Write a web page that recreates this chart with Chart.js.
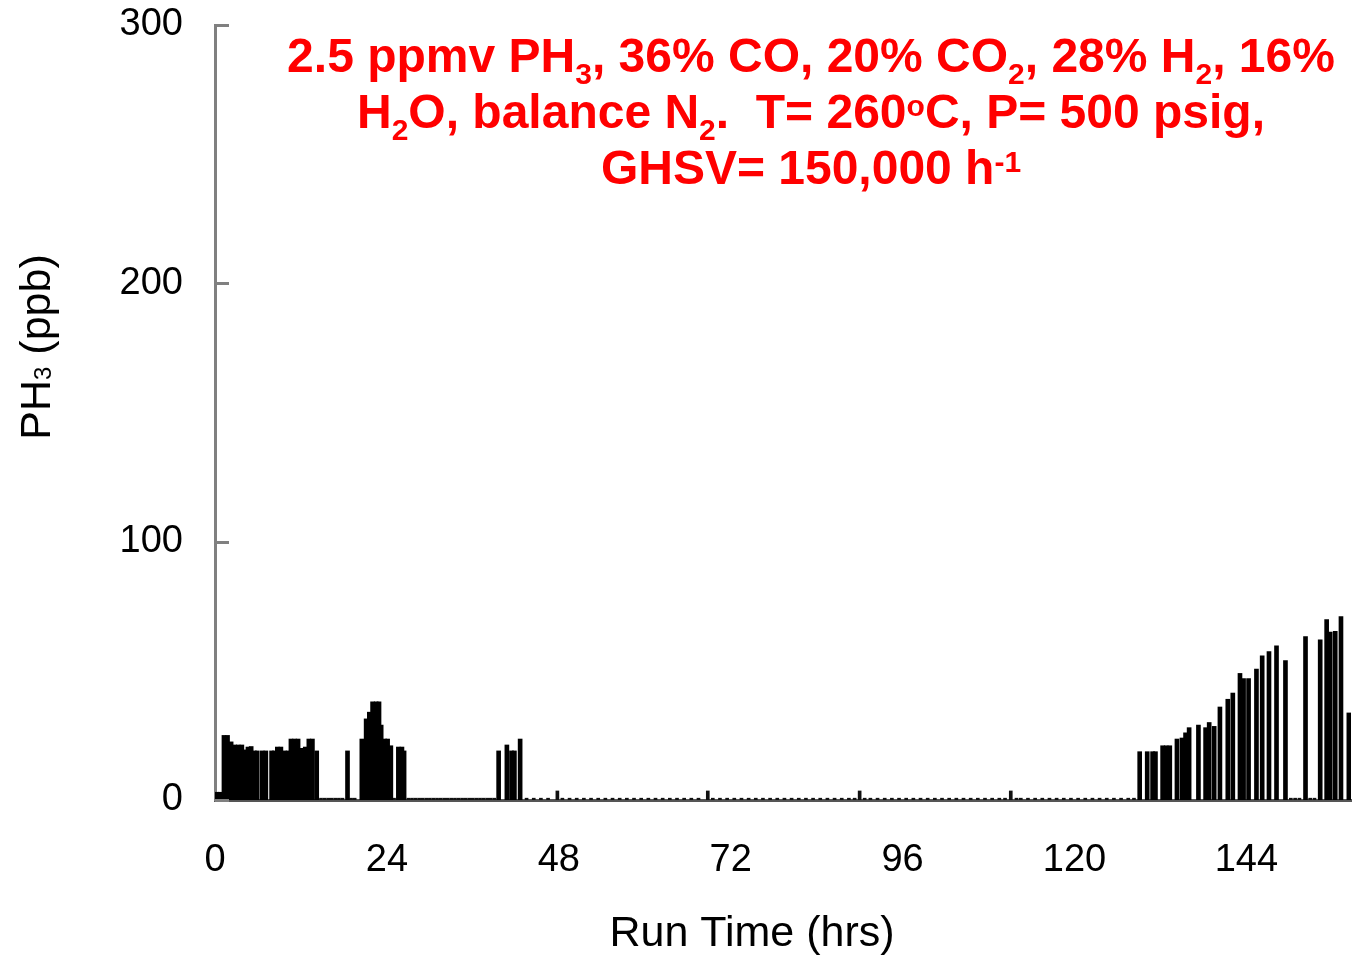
<!DOCTYPE html>
<html>
<head>
<meta charset="utf-8">
<script src="https://cdn.jsdelivr.net/npm/chart.js"></script>
<style>
  body { margin: 0; background: #fff; }
  #wrap { position: relative; width: 1353px; height: 956px; }
</style>
</head>
<body>
<div id="wrap"><canvas id="myChart"></canvas></div>
<script>
// PH3 readings (ppb) against run time (hrs)
var hours = [
  0.25, 0.75, 1.25, 1.75, 2.25, 2.75, 3.25, 3.75, 4.25, 4.6,
  5.05, 5.5, 5.9, 6.6, 7.1, 7.9, 8.3, 8.7, 9.2, 9.7,
  10.2, 10.6, 11.1, 11.6, 12.1, 12.6, 13.1, 13.6, 14.2, 18.5,
  20.5, 21.1, 21.55, 22.0, 22.5, 22.9, 23.2, 23.7, 24.1, 24.55,
  25.6, 26.1, 26.4, 39.6, 40.75, 41.4, 41.8, 42.6, 129.1, 130.15,
  130.9, 131.3, 132.3, 132.8, 133.3, 134.3, 135.0, 135.5, 136.0, 137.3,
  138.3, 138.8, 139.5, 140.3, 141.4, 142.1, 143.1, 143.6, 144.3, 145.4,
  146.2, 147.15, 148.2, 149.45, 152.25, 154.3, 155.2, 155.7, 156.4, 157.2,
  158.3
];
var ppb = [
  3, 3, 25, 25, 22.5, 21.3, 21.3, 21.3, 19.4, 20.5,
  20.7, 19, 19, 19, 19, 19, 19, 20.5, 20.5, 19,
  19, 23.6, 23.6, 23.6, 20, 20.5, 23.6, 23.6, 19, 19,
  23.6, 31.4, 34, 38, 38, 38, 29, 23.6, 23.6, 21,
  20.5, 20.5, 19, 19, 21.3, 19, 19, 23.6, 18.7, 18.7,
  18.7, 18.7, 21, 21, 21, 23.6, 24, 26, 28, 29,
  28, 30, 28.5, 36, 39, 41.4, 49, 47, 47, 50.7,
  55.8, 57.5, 59.7, 54, 63.3, 62, 69.8, 65, 65.3, 71,
  33.7
];

// near-zero readings between the breakthrough periods
var lowHours = [
  14.8, 15.3, 15.8, 16.3, 16.8, 17.3, 17.8, 19.0, 19.5, 25.0,
  27.0, 27.5, 28.0, 28.5, 29.0, 29.5, 30.0, 30.5, 31.0, 31.5,
  32.0, 32.5, 33.0, 33.5, 34.0, 34.5, 35.0, 35.5, 36.0, 36.5,
  37.0, 37.5, 38.0, 38.5, 39.0, 43.5, 44.5, 45.5, 46.5, 47.8,
  48.5, 49.5, 50.5, 51.5, 52.5, 53.5, 54.5, 55.5, 56.5, 57.5,
  58.5, 59.5, 60.5, 61.5, 62.5, 63.5, 64.5, 65.5, 66.5, 67.5,
  68.8, 69.5, 70.5, 71.5, 72.5, 73.5, 74.5, 75.5, 76.5, 77.5,
  78.5, 79.5, 80.5, 81.5, 82.5, 83.5, 84.5, 85.5, 86.5, 87.5,
  88.5, 89.3, 90.0, 90.7, 91.5, 92.5, 93.5, 94.5, 95.5, 96.5,
  97.5, 98.5, 99.5, 100.5, 101.5, 102.5, 103.5, 104.5, 105.5, 106.5,
  107.5, 108.5, 109.5, 110.3, 111.1, 111.9, 112.5, 113.5, 114.5, 115.5,
  116.5, 117.5, 118.5, 119.5, 120.5, 121.5, 122.5, 123.5, 124.5, 125.5,
  126.5, 127.5, 128.3, 150.2, 150.8, 151.4, 152.9, 153.5
];
var lowPpb = [
  0.7, 0.7, 0.7, 0.7, 0.7, 0.7, 0.7, 0.7, 0.7, 0.7,
  0.7, 0.7, 0.7, 0.7, 0.7, 0.7, 0.7, 0.7, 0.7, 0.7,
  0.7, 0.7, 0.7, 0.7, 0.7, 0.7, 0.7, 0.7, 0.7, 0.7,
  0.7, 0.7, 0.7, 0.7, 0.7, 0.7, 0.7, 0.7, 0.7, 3.5,
  0.7, 0.7, 0.7, 0.7, 0.7, 0.7, 0.7, 0.7, 0.7, 0.7,
  0.7, 0.7, 0.7, 0.7, 0.7, 0.7, 0.7, 0.7, 0.7, 0.7,
  3.5, 0.7, 0.7, 0.7, 0.7, 0.7, 0.7, 0.7, 0.7, 0.7,
  0.7, 0.7, 0.7, 0.7, 0.7, 0.7, 0.7, 0.7, 0.7, 0.7,
  0.7, 0.7, 3.5, 0.7, 0.7, 0.7, 0.7, 0.7, 0.7, 0.7,
  0.7, 0.7, 0.7, 0.7, 0.7, 0.7, 0.7, 0.7, 0.7, 0.7,
  0.7, 0.7, 0.7, 0.7, 3.5, 0.7, 0.7, 0.7, 0.7, 0.7,
  0.7, 0.7, 0.7, 0.7, 0.7, 0.7, 0.7, 0.7, 0.7, 0.7,
  0.7, 0.7, 0.7, 0.7, 0.7, 0.7, 0.7, 0.7
];

var xTicks = [0, 24, 48, 72, 96, 120, 144];
var yTicks = [0, 100, 200, 300];

// test conditions, [text, 'sub' | 'sup']
var noteLines = [
  [['2.5 ppmv PH'], ['3', 'sub'], [', 36% CO, 20% CO'], ['2', 'sub'], [', 28% H'], ['2', 'sub'], [', 16%']],
  [['H'], ['2', 'sub'], ['O, balance N'], ['2', 'sub'], ['.  T= 260'], ['o', 'sup'], ['C, P= 500 psig,']],
  [['GHSV= 150,000 h'], ['-1', 'sup']]
];

var FONT = "'Liberation Sans', Arial, sans-serif";

function drawRich(c, parts, cx, base, o) {
  var big = o.weight + ' ' + o.size + 'px ' + FONT;
  var sm = o.weight + ' ' + o.small + 'px ' + FONT;
  var w = 0;
  parts.forEach(function (p) { c.font = p[1] ? sm : big; w += c.measureText(p[0]).width; });
  var x = cx - w / 2;
  c.textAlign = 'left';
  c.textBaseline = 'alphabetic';
  parts.forEach(function (p) {
    c.font = p[1] ? sm : big;
    var dy = p[1] === 'sub' ? o.shift : (p[1] === 'sup' ? -o.shift : 0);
    c.fillText(p[0], x, base + dy);
    x += c.measureText(p[0]).width;
  });
}

var notes = {
  id: 'notes',
  afterDraw: function (chart) {
    var c = chart.ctx, area = chart.chartArea, ys = chart.scales.y;
    c.save();
    // tick marks point inward on the y axis
    c.strokeStyle = '#808080';
    c.lineWidth = 3;
    yTicks.forEach(function (v) {
      var py = Math.round(ys.getPixelForValue(v)) + 0.5;
      c.beginPath(); c.moveTo(area.left, py); c.lineTo(area.left + 14, py); c.stroke();
    });
    c.fillStyle = '#ff0000';
    noteLines.forEach(function (line, i) {
      drawRich(c, line, 811, 72 + i * 56, { size: 48, small: 30, shift: 12, weight: 'bold' });
    });
    c.fillStyle = '#000';
    drawRich(c, [['Run Time (hrs)']], 752, 946, { size: 43, small: 43, shift: 0, weight: 'normal' });
    c.translate(50, 347);
    c.rotate(-Math.PI / 2);
    drawRich(c, [['PH'], ['3', 'sub'], [' (ppb)']], 0, 0, { size: 43, small: 24, shift: 1, weight: 'normal' });
    c.restore();
  }
};

var ctx = document.getElementById('myChart').getContext('2d');

var myChart = new Chart(ctx, {
  type: 'bar',
  data: {
    datasets: [{
      label: 'PH3',
      data: hours.map(function (h, i) { return { x: h, y: ppb[i] }; }),
      backgroundColor: '#000',
      borderWidth: 0,
      barThickness: 4,
      grouped: false
    }, {
      label: 'PH3 low',
      data: lowHours.map(function (h, i) { return { x: h, y: lowPpb[i] }; }),
      backgroundColor: '#111',
      borderWidth: 0,
      barThickness: 3,
      grouped: false
    }]
  },
  options: {
    responsive: true,
    maintainAspectRatio: false,
    animation: false,
    layout: { padding: { top: 0, right: 2, left: 0, bottom: 0 } },
    plugins: { legend: { display: false }, tooltip: { enabled: false } },
    scales: {
      x: {
        type: 'linear',
        offset: false,
        min: 0,
        max: 158.6,
        grid: { display: false, offset: false },
        border: { display: true, color: '#555', width: 3 },
        ticks: { color: '#000', font: { family: FONT, size: 38 }, padding: 30, maxRotation: 0, autoSkip: false },
        afterBuildTicks: function (s) { s.ticks = xTicks.map(function (v) { return { value: v }; }); },
        afterFit: function (s) { s.height = 156; }
      },
      y: {
        min: 0,
        max: 300,
        grid: { display: false },
        border: { display: true, color: '#808080', width: 3 },
        ticks: { color: '#000', font: { family: FONT, size: 38 }, padding: 24 },
        afterBuildTicks: function (s) { s.ticks = yTicks.map(function (v) { return { value: v }; }); },
        afterFit: function (s) { s.width = 215; s.paddingTop = 25; s.paddingBottom = 0; }
      }
    }
  },
  plugins: [notes]
});
</script>
</body>
</html>
